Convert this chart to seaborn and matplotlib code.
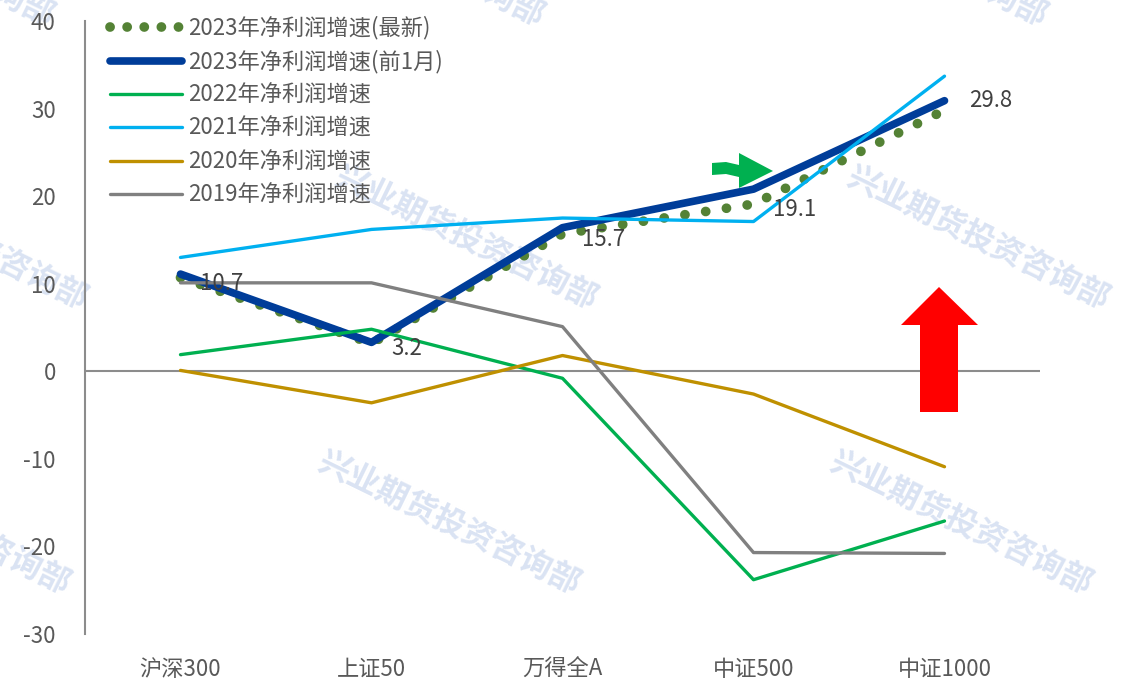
import numpy as np
import pandas as pd
import matplotlib
matplotlib.use("Agg")
import matplotlib.pyplot as plt
from matplotlib.patches import Polygon
import seaborn as sns

# ---------------- data ----------------
categories = ["沪深300", "上证50", "万得全A", "中证500", "中证1000"]
series_names = ["2023年净利润增速(最新)", "2023年净利润增速(前1月)", "2022年净利润增速",
                "2021年净利润增速", "2020年净利润增速", "2019年净利润增速"]
s2023_latest = [10.7, 3.2, 15.7, 19.1, 29.8]
s2023_prev = [11.1, 3.3, 16.4, 20.8, 30.9]
s2022 = [1.9, 4.8, -0.8, -23.8, -17.1]
s2021 = [13.0, 16.2, 17.5, 17.1, 33.7]
s2020 = [0.1, -3.6, 1.8, -2.6, -10.9]
s2019 = [10.1, 10.1, 5.1, -20.7, -20.8]
y_ticks = [-30, -20, -10, 0, 10, 20, 30, 40]
watermark = "兴业期货投资咨询部"

series_values = [s2023_latest, s2023_prev, s2022, s2021, s2020, s2019]
colors = ["#548235", "#003D99", "#00B050", "#00B0F0", "#BF9000", "#808080"]
widths = [7.0, 5.5, 2.4, 2.4, 2.4, 2.4]

rows = []
for name, vals in zip(series_names, series_values):
    for i, (c, v) in enumerate(zip(categories, vals)):
        rows.append({"series": name, "pos": i, "category": c, "value": v})
df = pd.DataFrame(rows)

# ---------------- style ----------------
sns.set_theme(style="white")
plt.rcParams["font.family"] = ["Noto Sans CJK SC", "DejaVu Sans"]
FS = 16
TXT = "#595959"

W, H = 1125, 681
fig = plt.figure(figsize=(W / 100, H / 100), dpi=100)
ax = fig.add_axes([85 / W, 1 - 634 / H, (1040 - 85) / W, (634 - 21) / H])
ax.patch.set_alpha(0)
ax.set_zorder(2)

# watermarks (behind everything)
wm_centers = [(-77, -45), (413, -45), (916, -45),
              (-44, 238), (466, 238), (978, 238),
              (-61, 523), (449, 523), (961, 523)]
for cx, cy in wm_centers:
    fig.text(cx / W, 1 - cy / H, watermark, fontsize=23, fontweight="bold",
             color="#DAE3F3", rotation=-26, ha="center", va="center",
             rotation_mode="anchor", zorder=0)

# ---------------- lines ----------------
for k, (name, col, lw) in enumerate(zip(series_names, colors, widths)):
    sub = df[df["series"] == name]
    sns.lineplot(data=sub, x="pos", y="value", color=col, linewidth=lw,
                 label=name, ax=ax, sort=False, zorder=3 + k)
    line = ax.lines[-1]
    line.set_solid_joinstyle("round")
    if k == 0:
        line.set_linestyle((0, (0.01, 2.15)))
        line.set_dash_capstyle("round")
    elif k == 1:
        line.set_solid_capstyle("round")

# zero line
ax.axhline(0, color="#8C8C8C", lw=1.5, zorder=2)

# data labels for latest series
for i, v in enumerate(s2023_latest):
    dx = 14 if i < 4 else 18
    dy = -4 if i < 4 else 7
    ax.annotate(f"{v:.1f}", xy=(i, v), xytext=(dx, dy),
                textcoords="offset points", ha="left", va="center",
                fontsize=FS, color="#404040", zorder=20)

# ---------------- axes ----------------
ax.set_xlim(-0.5, 4.5)
ax.set_ylim(-30, 40)
ax.set_xticks(range(len(categories)))
ax.set_xticklabels(categories)
ax.set_yticks(y_ticks)
ax.set_yticklabels([str(t) for t in y_ticks])
ax.tick_params(axis="both", length=0, labelsize=FS, colors=TXT)
ax.tick_params(axis="y", pad=21)
ax.tick_params(axis="x", pad=17)
ax.set_xlabel("")
ax.set_ylabel("")
for s in ["top", "right", "bottom"]:
    ax.spines[s].set_visible(False)
ax.spines["left"].set_color("#8C8C8C")
ax.spines["left"].set_linewidth(1.5)

leg = ax.legend(loc="upper left", bbox_to_anchor=(0.026, 1.008), frameon=False,
                fontsize=FS, handlelength=3.25, handletextpad=0.27,
                labelspacing=0.46, borderpad=0, borderaxespad=0)
for t in leg.get_texts():
    t.set_color(TXT)
for i, h in enumerate(leg.get_lines()):
    h.set_solid_capstyle("round")
    if i == 0:
        h.set_linestyle((0, (0.01, 1.75)))
        h.set_dash_capstyle("round")

# ---------------- decorative arrows ----------------
def px(pts):
    return [(x / W, 1 - y / H) for x, y in pts]

green_arrow = px([(712, 163), (726, 162), (739, 165), (739, 153), (773, 171),
                  (739, 188), (739, 177), (726, 174), (712, 175)])
red_arrow = px([(920, 412), (920, 325), (901, 325), (939, 287), (978, 325),
                (958, 325), (958, 412)])
fig.patches.append(Polygon(green_arrow, closed=True, facecolor="#00B050",
                           edgecolor="none", transform=fig.transFigure, zorder=30))
fig.patches.append(Polygon(red_arrow, closed=True, facecolor="#FF0000",
                           edgecolor="none", transform=fig.transFigure, zorder=30))

fig.savefig("out.png", dpi=100)
